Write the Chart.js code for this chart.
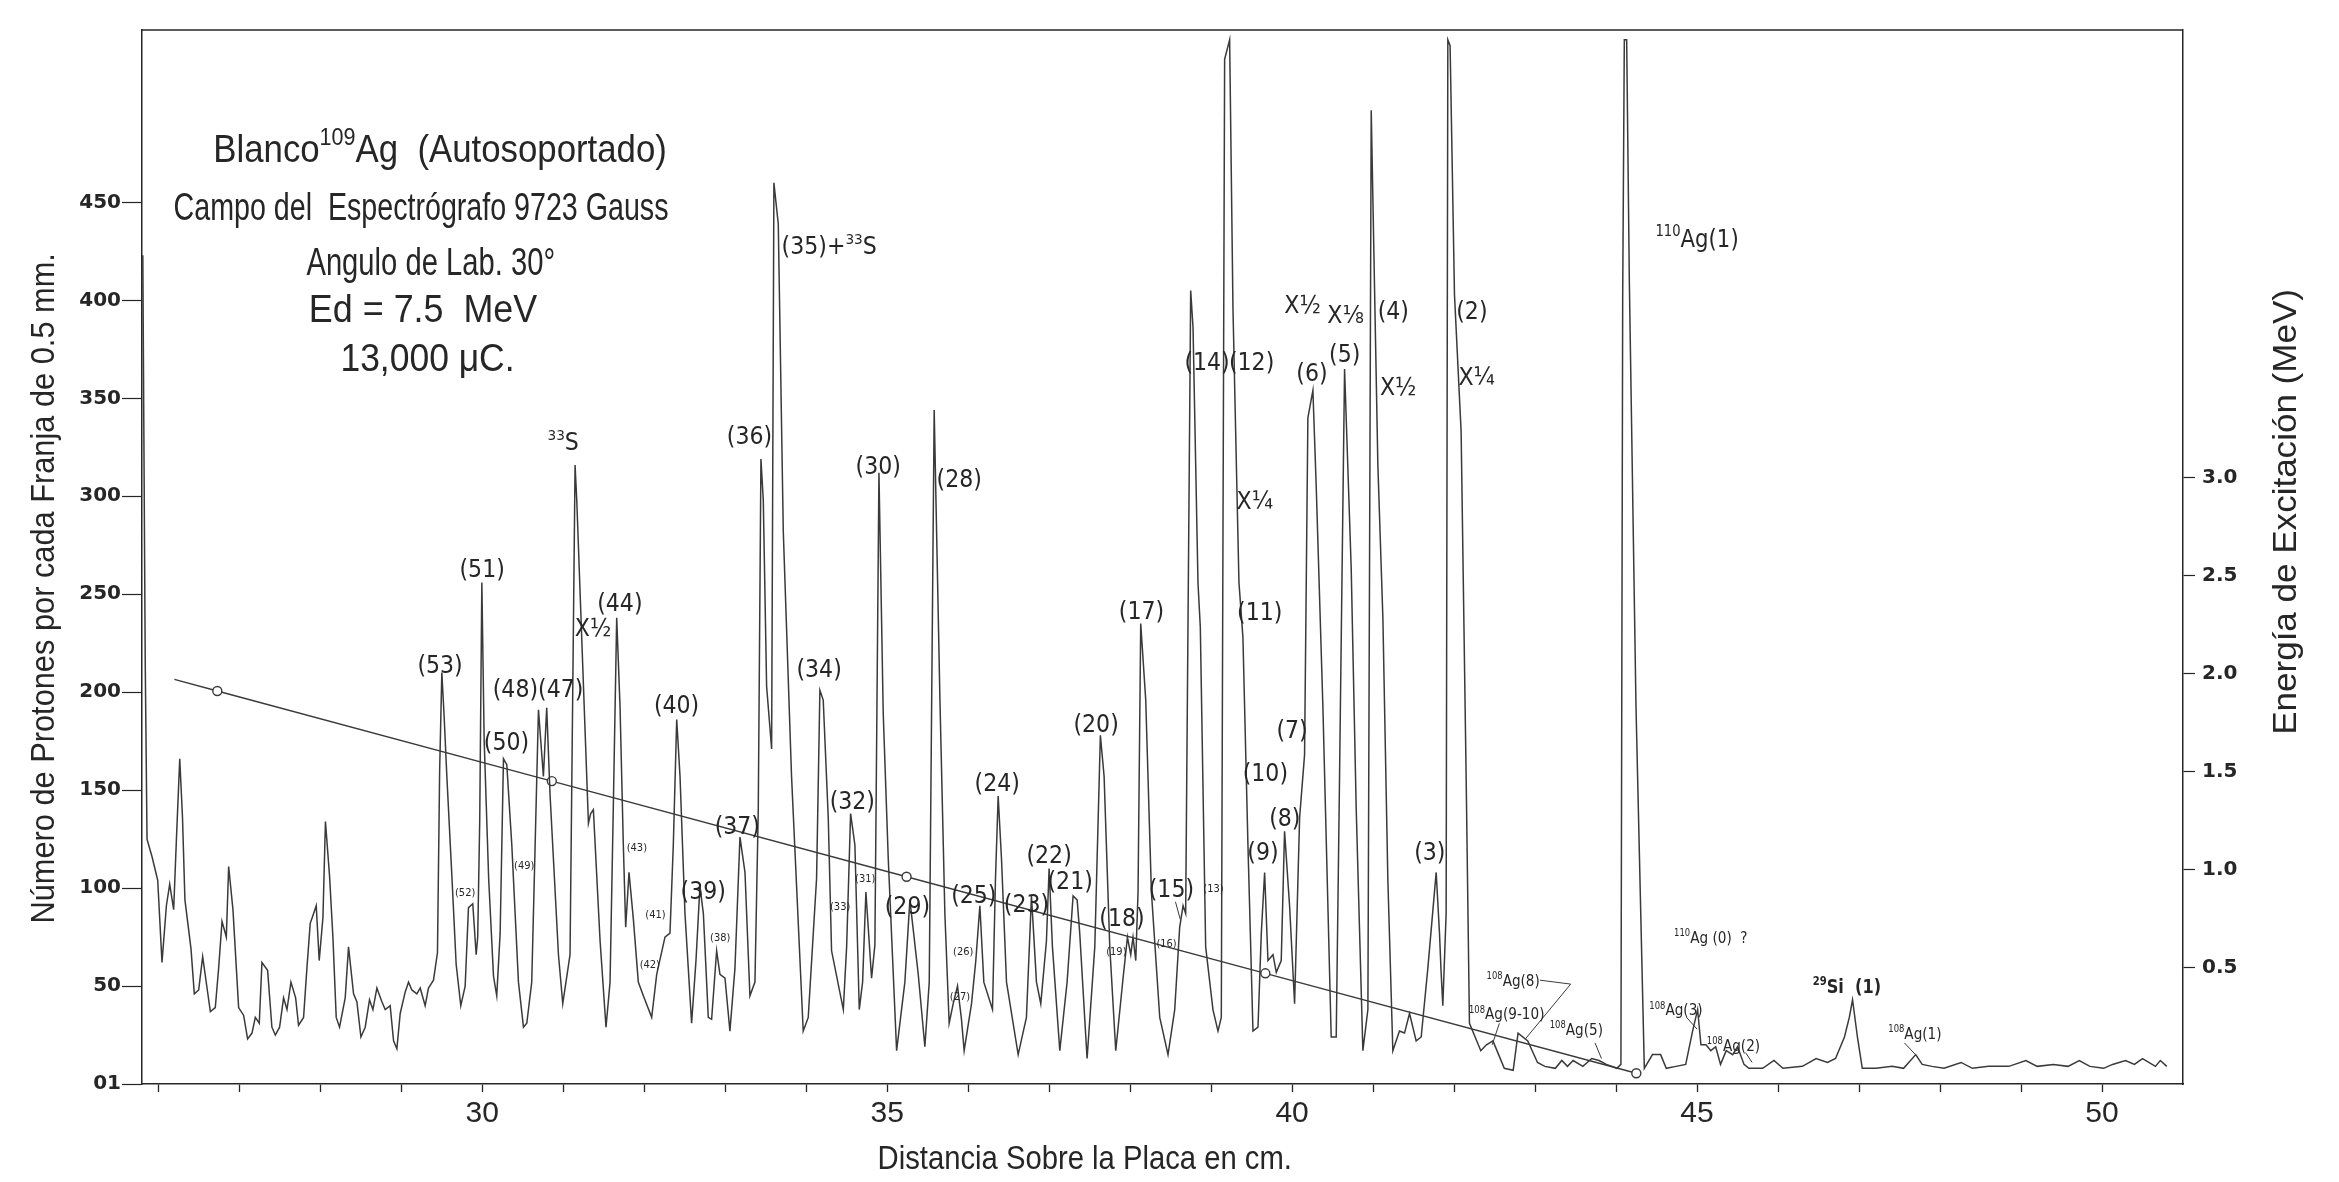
<!DOCTYPE html>
<html lang="es">
<head>
<meta charset="utf-8">
<title>Espectro de protones – Blanco 109Ag</title>
<script src="https://cdn.jsdelivr.net/npm/chart.js@4.4.1/dist/chart.umd.min.js"></script>
<style>
  html, body { margin: 0; padding: 0; background: #ffffff; }
  #marco { width: 2339px; height: 1182px; }
</style>
</head>
<body>
<div id="marco"><canvas id="grafica" width="2339" height="1182"></canvas></div>
<script>
// Posición sobre la placa (cm) y número de protones por franja de 0.5 mm
const distancia = [
  25.81, 25.84, 25.862, 25.924, 25.965, 25.994, 26.047, 26.101, 26.142, 26.191,
  26.225, 26.266, 26.300, 26.330, 26.405, 26.446, 26.500, 26.549, 26.603, 26.644,
  26.705, 26.746, 26.788, 26.841, 26.870, 26.923, 26.993, 27.055, 27.104, 27.158,
  27.199, 27.248, 27.281, 27.351, 27.404, 27.446, 27.499, 27.548, 27.590, 27.639,
  27.697, 27.733, 27.795, 27.836, 27.877, 27.919, 27.951, 27.988, 28.034, 28.065,
  28.116, 28.157, 28.198, 28.239, 28.309, 28.350, 28.412, 28.453, 28.503, 28.556,
  28.609, 28.651, 28.700, 28.762, 28.803, 28.864, 28.906, 28.947, 28.988, 29.050,
  29.091, 29.132, 29.194, 29.235, 29.296, 29.337, 29.399, 29.448, 29.475, 29.502,
  29.530, 29.564, 29.625, 29.679, 29.736, 29.790, 29.831, 29.884, 29.926, 29.945,
  29.970, 29.996,
  30.025, 30.080, 30.140, 30.180, 30.222, 30.263, 30.304, 30.366, 30.448, 30.510,
  30.551, 30.612, 30.654, 30.695, 30.756, 30.797, 30.839, 30.942, 30.995, 31.085,
  31.147, 31.168, 31.229, 31.312, 31.340, 31.373, 31.456, 31.529, 31.579, 31.620,
  31.661, 31.702, 31.743, 31.772, 31.813, 31.867, 31.928, 31.990, 32.093, 32.155,
  32.257, 32.319, 32.360, 32.402, 32.443, 32.504, 32.586, 32.640, 32.689, 32.731,
  32.792, 32.833, 32.895, 32.936, 32.998, 33.059, 33.121, 33.183, 33.245, 33.306,
  33.368, 33.409, 33.442, 33.471, 33.512, 33.574, 33.602, 33.656, 33.718, 33.820,
  33.964, 34.026, 34.129, 34.170, 34.211, 34.273, 34.314,
  34.459, 34.500, 34.549, 34.602, 34.656, 34.697, 34.738, 34.808, 34.849, 34.899,
  34.952, 35.014, 35.117, 35.219, 35.281, 35.384, 35.466, 35.520, 35.581, 35.651,
  35.713, 35.766, 35.816, 35.869, 35.918, 35.951, 36.042, 36.095, 36.145, 36.194,
  36.301, 36.338, 36.371, 36.412, 36.474, 36.618, 36.720, 36.782, 36.844, 36.897,
  36.967, 37.000, 37.041, 37.132, 37.222, 37.296, 37.346, 37.378, 37.469, 37.564,
  37.633, 37.679, 37.749, 37.823, 37.913, 37.967, 38.008, 38.036, 38.070, 38.098,
  38.131, 38.193, 38.263, 38.366, 38.468, 38.551, 38.612, 38.654, 38.686,
  38.748, 38.777, 38.838, 38.867, 38.933, 39.023, 39.085, 39.126, 39.167, 39.229,
  39.270, 39.344, 39.393, 39.455, 39.517, 39.579, 39.620, 39.661, 39.702, 39.764,
  39.805, 39.866, 39.907, 39.969, 40.031, 40.093, 40.154, 40.195, 40.257, 40.298,
  40.380, 40.483, 40.545, 40.586, 40.648, 40.730, 40.792, 40.874, 40.936, 40.977,
  41.059, 41.121, 41.182, 41.244, 41.326, 41.388, 41.450, 41.532, 41.594, 41.676,
  41.779, 41.820, 41.840, 41.861, 41.902, 41.923, 41.951, 42.005, 42.087, 42.149,
  42.190,
  42.26, 42.33, 42.40, 42.48, 42.55, 42.62, 42.73, 42.79, 42.91, 43.03,
  43.12, 43.25, 43.33, 43.40, 43.47, 43.59, 43.70, 43.79, 43.88, 44.01,
  44.06, 44.082, 44.102, 44.131, 44.164, 44.246, 44.349, 44.45, 44.55, 44.62,
  44.74, 44.86, 44.945, 45.007, 45.048, 45.11, 45.17, 45.23, 45.29, 45.36,
  45.44, 45.50, 45.58, 45.64, 45.81, 45.95, 46.06, 46.30, 46.47, 46.61,
  46.71, 46.82, 46.88, 46.92, 46.98, 47.04, 47.21, 47.41, 47.55, 47.70,
  47.78, 47.90, 48.05, 48.26, 48.40, 48.60, 48.85, 49.06, 49.20, 49.40,
  49.58, 49.72, 49.85, 50.02, 50.13, 50.29, 50.40, 50.50, 50.66, 50.72,
  50.80
];
const protones = [
  423, 215, 125, 116, 109, 104, 62, 91, 102, 89,
  125, 166, 136, 94, 69, 46, 48, 65, 49, 37,
  39, 59, 83, 75, 111, 89, 39, 35, 23, 26,
  34, 31, 62, 58, 29, 25, 29, 44, 38, 52,
  44, 30, 34, 59, 82, 87, 91, 63, 85, 134,
  106, 75, 34, 29, 44, 70, 46, 42, 24, 29,
  43, 38, 49, 42, 38, 40, 22, 18, 36, 47,
  52, 48, 46, 49, 40, 49, 53, 67, 160, 210,
  188, 157, 107, 61, 40, 50, 90, 92, 66, 75,
  135, 256,
  175, 105, 55, 45, 77, 166, 163, 122, 52, 29,
  31, 52, 122, 191, 157, 192, 147, 66, 41, 66,
  316, 298, 228, 133, 138, 140, 73, 29, 52, 143,
  238, 193, 122, 80, 108, 84, 52, 45, 34, 56,
  75, 77, 122, 186, 157, 87, 31, 63, 101, 87,
  34, 33, 68, 56, 54, 27, 59, 126, 108, 45,
  52, 140, 319, 298, 203, 171, 460, 439, 282, 157,
  27, 34, 105, 201, 196, 136, 68,
  38, 70, 138, 122, 38, 52, 98, 54, 71, 312,
  189, 115, 17, 52, 94, 56, 19, 52, 344, 198,
  87, 31, 41, 50, 33, 17, 41, 63, 91, 52,
  38, 105, 147, 115, 52, 15, 34, 96, 52, 41,
  73, 110, 70, 17, 52, 96, 94, 77, 13, 70,
  178, 157, 70, 17, 54, 75, 66, 75, 63, 98,
  235, 196, 98, 34, 15, 38, 80, 91, 87,
  405, 386, 256, 233, 70, 38, 27, 34, 523, 533,
  396, 256, 228, 122, 27, 29, 77, 108, 63, 66,
  57, 63, 129, 91, 41, 136, 168, 340, 354, 305,
  193, 24, 24, 157, 365, 263, 140, 17, 38, 497,
  316, 238, 105, 17, 27, 26, 36, 22, 24, 59,
  108, 77, 57, 40, 87, 533, 530, 403, 333, 157,
  31,
  24, 17, 20, 22, 15, 8, 7, 26, 22, 11,
  9, 8, 12, 9, 12, 9, 13, 12, 10, 8,
  10, 403, 533, 533, 410, 193, 8, 15, 15, 8,
  9, 10, 27, 38, 20, 20, 17, 19, 10, 17,
  15, 19, 10, 8, 8, 12, 8, 9, 13, 11,
  13, 24, 34, 43, 24, 8, 8, 9, 8, 15,
  10, 9, 8, 11, 8, 9, 9, 12, 9, 10,
  9, 12, 9, 8, 10, 12, 10, 13, 9, 12,
  9
];

// Recta de calibración en energía (marcas circulares en los puntos de referencia)
const calibDistancia = [26.20, 26.73, 30.86, 35.24, 39.67, 44.25];
const calibProtones  = [206.5, 200.6, 154.6, 105.8, 56.5, 5.5];

// Escalas
const marcasProtones  = [0, 50, 100, 150, 200, 250, 300, 350, 400, 450];
const marcasEnergia   = [0.5, 1.0, 1.5, 2.0, 2.5, 3.0];
const marcasDistancia = [26, 27, 28, 29, 30, 31, 32, 33, 34, 35, 36, 37, 38,
                         39, 40, 41, 42, 43, 44, 45, 46, 47, 48, 49, 50];
const rotulosDistancia = [30, 35, 40, 45, 50];

// Leyenda del experimento: [texto, distancia inicial, distancia final, protones]
const leyenda = [
  ['Blanco{109}Ag  (Autosoportado)', 26.68, 32.28, 478],
  ['Campo del  Espectrógrafo 9723 Gauss', 26.19, 32.30, 448],
  ['Angulo de Lab. 30°', 27.83, 30.90, 420],
  ['Ed = 7.5  MeV', 27.86, 30.68, 396],
  ['13,000 μC.', 28.25, 30.40, 371]
];

// Identificación de los grupos de protones: [texto, distancia, protones, estilo]
const grupos = [
  ['(53)', 29.48, 214, 'pico'], ['(51)', 30.00, 263, 'pico'], ['(50)', 30.30, 175, 'pico'],
  ['(48)(47)', 30.69, 202, 'pico'], ['{33}S', 31.00, 328, 'pico'], ['X½', 31.37, 233, 'pico'],
  ['(44)', 31.70, 246, 'pico'], ['(40)', 32.40, 194, 'pico'], ['(39)', 32.73, 99, 'pico'],
  ['(37)', 33.15, 132, 'pico'], ['(36)', 33.30, 331, 'pico'], ['(35)+{33}S', 34.285, 428, 'pico'],
  ['(34)', 34.16, 212, 'pico'], ['(32)', 34.57, 145, 'pico'], ['(30)', 34.89, 316, 'pico'],
  ['(29)', 35.25, 91, 'pico'], ['(28)', 35.89, 309, 'pico'], ['(25)', 36.07, 97, 'pico'],
  ['(24)', 36.36, 154, 'pico'], ['(23)', 36.72, 92, 'pico'], ['(22)', 37.00, 117, 'pico'],
  ['(21)', 37.26, 104, 'pico'], ['(20)', 37.58, 184, 'pico'], ['(18)', 37.90, 85, 'pico'],
  ['(17)', 38.14, 242, 'pico'], ['(15)', 38.51, 100, 'pico'], ['(14)', 38.95, 369, 'pico'],
  ['(12)', 39.50, 369, 'pico'], ['X¼', 39.54, 298, 'pico'], ['(11)', 39.60, 241, 'pico'],
  ['(10)', 39.67, 159, 'pico'], ['(9)', 39.64, 119, 'pico'], ['(8)', 39.91, 136, 'pico'],
  ['(7)', 40.00, 181, 'pico'], ['(6)', 40.245, 363, 'pico'], ['(5)', 40.65, 373, 'pico'],
  ['X½', 40.13, 398, 'pico'], ['X⅛', 40.66, 393, 'pico'], ['(4)', 41.25, 395, 'pico'],
  ['X½', 41.31, 356, 'pico'], ['(3)', 41.70, 119, 'pico'], ['(2)', 42.22, 395, 'pico'],
  ['X¼', 42.28, 361, 'pico'],
  ['{110}Ag(1)', 45.00, 432, 'isotopo'], ['{110}Ag (0)  ?', 45.17, 75, 'isoChico'],
  ['{108}Ag(8)', 42.73, 53, 'isoChico'], ['{108}Ag(9-10)', 42.65, 36, 'isoChico'],
  ['{108}Ag(5)', 43.51, 28, 'isoChico'], ['{108}Ag(3)', 44.74, 38, 'isoChico'],
  ['{108}Ag(2)', 45.45, 20, 'isoChico'], ['{29}Si  (1)', 46.85, 50, 'silicio'],
  ['{108}Ag(1)', 47.69, 26, 'isoChico'],
  ['(52)', 29.79, 98, 'menor'], ['(49)', 30.52, 112, 'menor'], ['(43)', 31.91, 121, 'menor'],
  ['(41)', 32.14, 87, 'menor'], ['(42)', 32.07, 61, 'menor'], ['(38)', 32.94, 75, 'menor'],
  ['(33)', 34.42, 91, 'menor'], ['(31)', 34.73, 105, 'menor'], ['(26)', 35.94, 68, 'menor'],
  ['(27)', 35.90, 45, 'menor'], ['(19)', 37.83, 68, 'menor'], ['(16)', 38.45, 72, 'menor'],
  ['(13)', 39.03, 100, 'menor']
];

// Líneas de referencia que unen rótulos con sus grupos
const guias = [
  [[38.56, 93], [38.62, 84]],
  [[43.06, 53], [43.44, 51], [42.88, 23]],
  [[42.56, 31], [42.47, 20]],
  [[43.74, 21], [43.82, 13]],
  [[44.87, 34], [45.00, 28]],
  [[45.60, 16], [45.68, 11]],
  [[47.56, 21], [47.72, 14]]
];

const TINTA = '#262626';
const TRAZO = '#3a3a3a';

const estilos = {
  leyenda:  { fam: 'Liberation Sans', tam: 39, peso: 'normal', cx: 1 },
  pico:     { fam: 'DejaVu Sans', tam: 24, peso: 'normal', cx: 0.92 },
  menor:    { fam: 'DejaVu Sans', tam: 11, peso: 'normal', cx: 0.9 },
  isotopo:  { fam: 'DejaVu Sans', tam: 25, peso: 'normal', cx: 0.85 },
  isoChico: { fam: 'DejaVu Sans', tam: 16, peso: 'normal', cx: 0.85 },
  silicio:  { fam: 'DejaVu Sans', tam: 19, peso: 'bold', cx: 0.85 },
  ejeX:     { fam: 'Liberation Sans', tam: 34, peso: 'normal', cx: 0.86 },
  ejeIzq:   { fam: 'Liberation Sans', tam: 34, peso: 'normal', cx: 0.905 },
  ejeDer:   { fam: 'Liberation Sans', tam: 34, peso: 'normal', cx: 1.03 }
};

// Texto con superíndices marcados entre llaves: "{109}Ag"
function partir(texto) {
  const partes = [];
  const re = /\{([^}]*)\}|([^{]+)/g;
  let m;
  while ((m = re.exec(texto))) {
    partes.push(m[1] !== undefined ? { t: m[1], sup: true } : { t: m[2], sup: false });
  }
  return partes;
}

function medir(ctx, partes, est) {
  const f = est.tam, fs = f * 0.62;
  let ancho = 0;
  partes.forEach(p => {
    ctx.font = `${est.peso || 'normal'} ${p.sup ? fs : f}px "${est.fam}"`;
    p.w = ctx.measureText(p.t).width;
    ancho += p.w;
  });
  return ancho;
}

// anchoFinal: si se indica, el texto se comprime o estira para ocupar ese ancho
function escribir(ctx, texto, x, y, est, giro, anchoFinal) {
  const partes = partir(texto);
  const f = est.tam, fs = f * 0.62;
  const ancho = medir(ctx, partes, est);
  const cx = anchoFinal ? anchoFinal / ancho : est.cx;
  ctx.save();
  ctx.translate(x, y);
  if (giro) ctx.rotate(giro);
  ctx.scale(cx, 1);
  ctx.fillStyle = TINTA;
  ctx.textBaseline = 'alphabetic';
  ctx.textAlign = 'left';
  let px = -ancho / 2;
  const base = f * 0.36;
  partes.forEach(p => {
    ctx.font = `${est.peso || 'normal'} ${p.sup ? fs : f}px "${est.fam}"`;
    ctx.fillText(p.t, px, p.sup ? base - f * 0.42 : base);
    px += p.w;
  });
  ctx.restore();
}

const rotulacion = {
  id: 'rotulacion',
  afterDraw(chart) {
    const { ctx, chartArea: a, scales } = chart;
    const sx = scales.x, sy = scales.y;
    ctx.save();
    // borde superior del marco
    ctx.strokeStyle = TINTA;
    ctx.lineWidth = 1.5;
    ctx.beginPath();
    ctx.moveTo(a.left, a.top);
    ctx.lineTo(a.right, a.top);
    ctx.stroke();
    // guías de rótulos
    ctx.lineWidth = 1;
    ctx.strokeStyle = TRAZO;
    guias.forEach(g => {
      ctx.beginPath();
      g.forEach(([d, p], i) => {
        const px = sx.getPixelForValue(d), py = sy.getPixelForValue(p);
        if (i) ctx.lineTo(px, py); else ctx.moveTo(px, py);
      });
      ctx.stroke();
    });
    leyenda.forEach(([t, d0, d1, p]) => {
      const x0 = sx.getPixelForValue(d0), x1 = sx.getPixelForValue(d1);
      escribir(ctx, t, (x0 + x1) / 2, sy.getPixelForValue(p), estilos.leyenda, 0, x1 - x0);
    });
    grupos.forEach(([t, d, p, e]) =>
      escribir(ctx, t, sx.getPixelForValue(d), sy.getPixelForValue(p), estilos[e]));
    // títulos de los ejes
    escribir(ctx, 'Distancia Sobre la Placa en cm.', sx.getPixelForValue(37.44), a.bottom + 73, estilos.ejeX);
    escribir(ctx, 'Número de Protones por cada Franja de 0.5 mm.', a.left - 100, sy.getPixelForValue(253), estilos.ejeIzq, -Math.PI / 2);
    escribir(ctx, 'Energía de Excitación (MeV)', a.right + 101, sy.getPixelForValue(292), estilos.ejeDer, -Math.PI / 2);
    ctx.restore();
  }
};

const espectro = distancia.map((d, i) => ({ x: d, y: protones[i] }));
const calibracion = calibDistancia.map((d, i) => ({ x: d, y: calibProtones[i] }));

new Chart(document.getElementById('grafica'), {
  type: 'line',
  data: {
    datasets: [
      {
        data: espectro,
        borderColor: TRAZO,
        borderWidth: 1.5,
        pointRadius: 0,
        tension: 0,
        yAxisID: 'y'
      },
      {
        data: calibracion,
        borderColor: TRAZO,
        borderWidth: 1.4,
        pointRadius: c => (c.dataIndex === 0 ? 0 : 4.5),
        pointBackgroundColor: '#ffffff',
        pointBorderColor: TRAZO,
        pointBorderWidth: 1.4,
        tension: 0,
        yAxisID: 'y'
      }
    ]
  },
  options: {
    responsive: false,
    animation: false,
    layout: { padding: { top: 30, left: 0, right: 0, bottom: 0 } },
    plugins: { legend: { display: false }, tooltip: { enabled: false } },
    scales: {
      x: {
        type: 'linear',
        min: 25.8,
        max: 51.0,
        afterBuildTicks: s => { s.ticks = marcasDistancia.map(v => ({ value: v })); },
        afterFit: s => { s.height = 98; },
        ticks: {
          autoSkip: false,
          maxRotation: 0,
          padding: 4,
          color: TINTA,
          font: { family: 'Liberation Sans', size: 30 },
          callback: v => (rotulosDistancia.includes(v) ? String(v) : '')
        },
        grid: { drawOnChartArea: false, tickLength: 8, color: TINTA, tickWidth: 1.3 },
        border: { color: TINTA, width: 1.5 }
      },
      y: {
        position: 'left',
        min: 0,
        max: 538,
        afterBuildTicks: s => { s.ticks = marcasProtones.map(v => ({ value: v })); },
        afterFit: s => { s.width = 142; },
        ticks: {
          padding: 1,
          color: TINTA,
          font: { family: 'DejaVu Sans', size: 20, weight: 'bold' },
          callback: v => (v === 0 ? '01' : String(v))
        },
        grid: { drawOnChartArea: false, tickLength: 20, color: TINTA, tickWidth: 1.2 },
        border: { color: TINTA, width: 1.5 }
      },
      energia: {
        position: 'right',
        min: -0.095,
        max: 5.285,
        afterBuildTicks: s => { s.ticks = marcasEnergia.map(v => ({ value: v })); },
        afterFit: s => { s.width = 156; },
        ticks: {
          padding: 7,
          color: TINTA,
          font: { family: 'DejaVu Sans', size: 20, weight: 'bold' },
          callback: v => v.toFixed(1)
        },
        grid: { drawOnChartArea: false, tickLength: 12, color: TINTA, tickWidth: 1.2 },
        border: { color: TINTA, width: 1.5 }
      }
    }
  },
  plugins: [rotulacion]
});
</script>
</body>
</html>
